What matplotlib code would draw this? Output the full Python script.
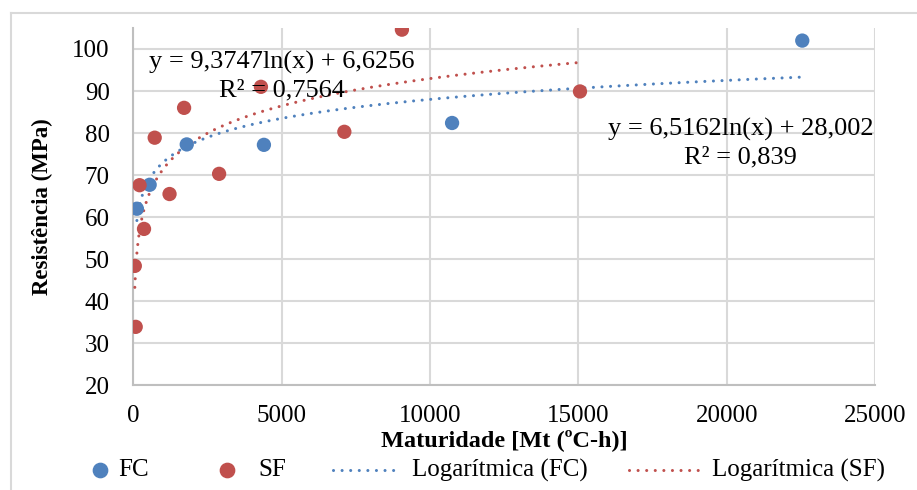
import numpy as np
import matplotlib
matplotlib.use('Agg')
import matplotlib.pyplot as plt
from matplotlib.lines import Line2D

# Maturity (ºC-h) and compressive strength (MPa) for each mix
fc_x = [120, 550, 1800, 4400, 10740, 22540]
fc_y = [62.0, 67.7, 77.3, 77.2, 82.4, 102.0]

sf_x = [50, 80, 210, 360, 720, 1220, 1710, 2890, 4300, 7110, 9050, 15050]
sf_y = [48.4, 33.9, 67.6, 57.2, 78.9, 65.5, 86.0, 70.3, 91.0, 80.3, 104.6, 89.9]

# Logarithmic trendline coefficients: y = a*ln(x) + b, plus R²
fc_fit = (6.5162, 28.002, 0.839)
sf_fit = (9.3747, 6.6256, 0.7564)

x_ticks = [0, 5000, 10000, 15000, 20000, 25000]
y_ticks = [20, 30, 40, 50, 60, 70, 80, 90, 100]

BLUE = '#4F81BD'
RED = '#C0504D'
GRID = '#D9D9D9'

W, H = 917, 490

plt.rcParams['font.family'] = ['Liberation Serif', 'DejaVu Serif']

fig = plt.figure(figsize=(W / 100, H / 100), dpi=100)
ax = fig.add_axes([0.1454, 0.2137, 0.8091, 0.7292])


def px(x, y):
    # pixel position (from top-left) -> figure fraction
    return x / W, 1 - y / H


# outer chart border
fig.add_artist(Line2D([11 / W, 1], [1 - 13 / H] * 2,
                      transform=fig.transFigure, color=GRID, lw=1.5))
fig.add_artist(Line2D([11 / W] * 2, [0, 1 - 13 / H],
                      transform=fig.transFigure, color=GRID, lw=1.5))

dots = (0, (0.01, 2.8))


def fmt(v, nd):
    return f'{v:.{nd}f}'.replace('.', ',')


# trendlines span the range of each series
for xs, (a, b, r2), col in [(fc_x, fc_fit, BLUE), (sf_x, sf_fit, RED)]:
    xx = np.linspace(min(xs), max(xs), 2000)
    ax.plot(xx, a * np.log(xx) + b, color=col, lw=2.2, linestyle=dots,
            dash_capstyle='round', zorder=3)

ax.scatter(fc_x, fc_y, s=106, color=BLUE, edgecolors='none', zorder=4)
ax.scatter(sf_x, sf_y, s=106, color=RED, edgecolors='none', zorder=4)

ax.text(5010, 93.5,
        f'y = {fmt(sf_fit[0], 4)}ln(x) + {fmt(sf_fit[1], 4)}\nR² = {fmt(sf_fit[2], 4)}',
        ha='center', va='center', multialignment='center', fontsize=19,
        linespacing=1.3, zorder=5)
ax.text(20470, 77.6,
        f'y = {fmt(fc_fit[0], 4)}ln(x) + {fmt(fc_fit[1], 3)}\nR² = {fmt(fc_fit[2], 3)}',
        ha='center', va='center', multialignment='center', fontsize=19,
        linespacing=1.3, zorder=5)

ax.set_xlim(0, 25000)
ax.set_ylim(20, 105)
ax.set_xticks(x_ticks)
ax.set_yticks(y_ticks)
ax.grid(True, color=GRID, lw=1.5, zorder=0)
ax.set_axisbelow(True)
ax.tick_params(length=0, labelsize=18)
ax.tick_params(axis='y', pad=17)
ax.tick_params(axis='x', pad=14.5)

for side in ['top', 'right']:
    ax.spines[side].set_visible(False)
for side in ['left', 'bottom']:
    ax.spines[side].set_color('#BFBFBF')
    ax.spines[side].set_linewidth(1.5)

ax.set_xlabel('Maturidade [Mt (ºC-h)]', fontsize=17.5, fontweight='bold', labelpad=1)
ax.set_ylabel('Resistência (MPa)', fontsize=16.5, fontweight='bold', labelpad=14)

# legend row along the bottom
ly = 470
for mx, col in [(100, BLUE), (227, RED)]:
    fig.add_artist(Line2D([px(mx, ly)[0]], [px(mx, ly)[1]], marker='o', ls='none',
                          color=col, markersize=10.3, transform=fig.transFigure))
for x0, x1, col in [(333, 400, BLUE), (629, 700, RED)]:
    fig.add_artist(Line2D([px(x0, ly)[0], px(x1, ly)[0]], [px(x0, ly)[1]] * 2,
                          color=col, lw=2.2, ls=dots, dash_capstyle='round',
                          transform=fig.transFigure))
for tx, label in [(118, 'FC'), (258, 'SF'), (412, 'Logarítmica (FC)'),
                  (712, 'Logarítmica (SF)')]:
    fig.text(*px(tx, ly), label, ha='left', va='center', fontsize=18)

fig.savefig('out.png', dpi=100)
